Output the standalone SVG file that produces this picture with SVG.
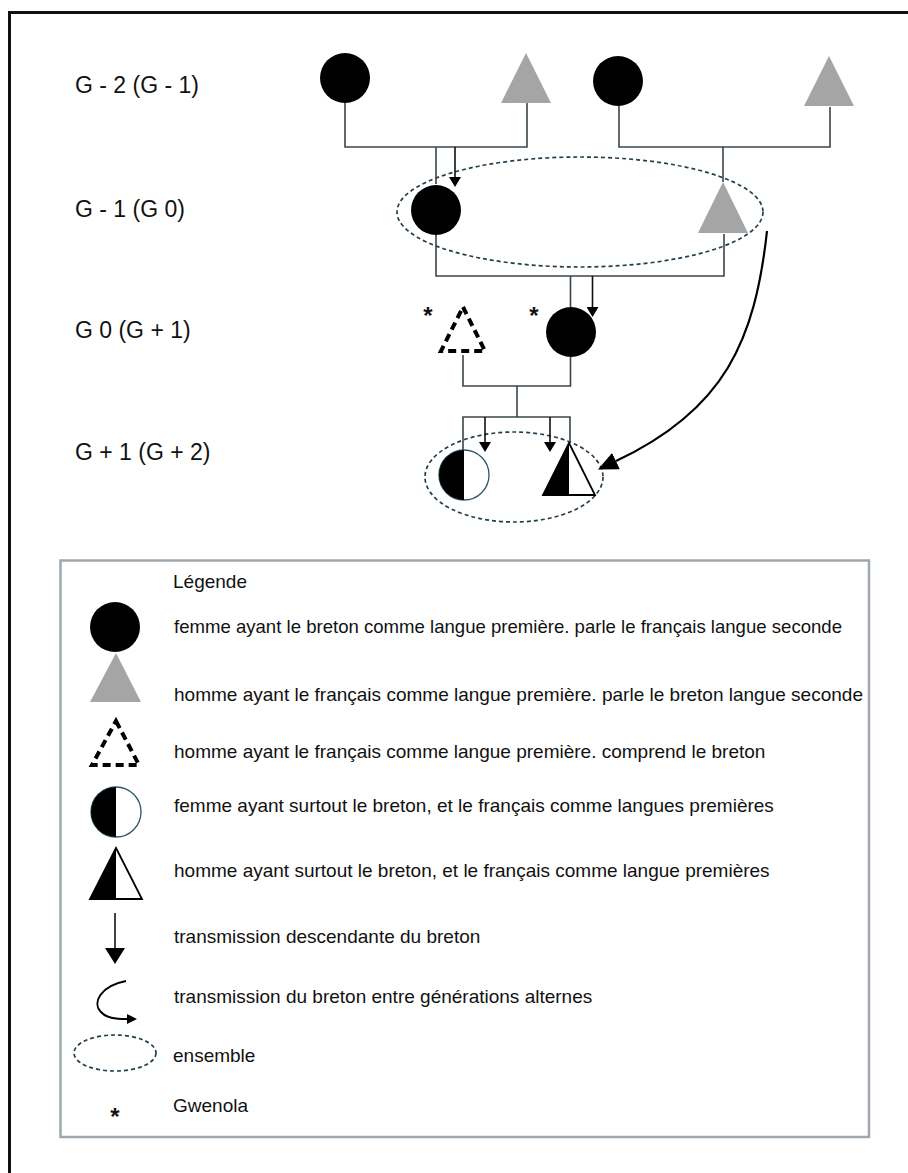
<svg xmlns="http://www.w3.org/2000/svg" width="908" height="1173" viewBox="0 0 908 1173">
<style>
  .lbl { font-family: "Liberation Sans", Arial, sans-serif; font-size: 23px; fill: #111; }
  .leg { font-family: "Liberation Sans", Arial, sans-serif; font-size: 19px; fill: #111; }
  .star { font-family: "Liberation Sans", Arial, sans-serif; font-size: 24px; font-weight: bold; fill: #111; text-anchor: middle; }
  .f { fill: #000; }
  .m { fill: #a5a5a5; }
  .ln { fill: none; stroke: #3a454b; stroke-width: 1.6; }
  .arr { fill: none; stroke: #111; stroke-width: 1.6; }
  .ens { fill: none; stroke: #24404e; stroke-width: 1.7; stroke-dasharray: 4 3; }
  .dtri { fill: none; stroke: #000; stroke-width: 4; stroke-dasharray: 8 5; stroke-linejoin: miter; }
</style>
<defs>
  <marker id="headS" markerUnits="userSpaceOnUse" viewBox="0 0 10 12" markerWidth="10" markerHeight="12" refX="0" refY="6" orient="auto">
    <polygon points="0,0 10,6 0,12" fill="#000"/>
  </marker>
  <marker id="headL" markerUnits="userSpaceOnUse" viewBox="0 0 16 20" markerWidth="16" markerHeight="20" refX="0" refY="10" orient="auto">
    <polygon points="0,0 16,10 0,20" fill="#000"/>
  </marker>
  <marker id="headC" markerUnits="userSpaceOnUse" viewBox="0 0 20 18" markerWidth="20" markerHeight="18" refX="0" refY="9" orient="auto">
    <polygon points="0,0 20,9 0,18" fill="#000"/>
  </marker>
  <marker id="headT" markerUnits="userSpaceOnUse" viewBox="0 0 10 10" markerWidth="10" markerHeight="10" refX="0" refY="5" orient="auto">
    <polygon points="0,0 10,5 0,10" fill="#000"/>
  </marker>
</defs>

<rect x="0" y="0" width="908" height="1173" fill="#fff"/>
<path d="M9.5,1173 V12.5 H908" fill="none" stroke="#111" stroke-width="3"/>

<g id="labels">
  <text class="lbl" x="75" y="93">G - 2 (G - 1)</text>
  <text class="lbl" x="75" y="217">G - 1 (G 0)</text>
  <text class="lbl" x="75" y="338">G  0 (G + 1)</text>
  <text class="lbl" x="75" y="460">G + 1 (G + 2)</text>
</g>

<g id="ensembles">
  <ellipse id="ens1" class="ens" cx="580" cy="212" rx="183" ry="55"/>
  <ellipse id="ens2" class="ens" cx="514" cy="477" rx="89" ry="45"/>
</g>

<g id="connectors">
  <path class="ln" d="M345,103 V147 H527 V103"/>
  <path class="ln" d="M436,147 V184"/>
  <path class="ln" d="M619,106 V147 H830 V107"/>
  <path class="ln" d="M723,147 V182"/>
  <path class="ln" d="M436,235 V276 H724 V234"/>
  <path class="ln" d="M570.5,276 V307"/>
  <path class="ln" d="M463,355 V386 H570.5 V357"/>
  <path class="ln" d="M517,386 V417"/>
  <path class="ln" d="M463,450 V417 H570 V443"/>
  <path class="arr" d="M455,147 V177" marker-end="url(#headS)"/>
  <path class="arr" d="M592.5,276 V307" marker-end="url(#headS)"/>
  <path class="arr" d="M485,417 V442" marker-end="url(#headS)"/>
  <path class="arr" d="M550,417 V442" marker-end="url(#headS)"/>
  <path d="M767,231 C755,340 725,410 616,461" fill="none" stroke="#000" stroke-width="2.2" marker-end="url(#headC)"/>
</g>

<g id="g-2-f1"><circle class="f" cx="345" cy="78" r="25"/></g>
<g id="g-2-m1"><polygon class="m" points="526,53 551,103 501,103"/></g>
<g id="g-2-f2"><circle class="f" cx="618" cy="81" r="25"/></g>
<g id="g-2-m2"><polygon class="m" points="829,56 854,106 804,106"/></g>
<g id="g-1-f"><circle class="f" cx="436" cy="210" r="25"/></g>
<g id="g-1-m"><polygon class="m" points="723,182 748,233 698,233"/></g>
<g id="g0-m">
  <polygon class="dtri" points="463,307 485,351 441,351"/>
  <text class="star" x="428" y="324">*</text>
</g>
<g id="g0-f">
  <circle class="f" cx="571" cy="332" r="25"/>
  <text class="star" x="534" y="324">*</text>
</g>
<g id="g1-f">
  <circle cx="464" cy="475" r="25" fill="#fff" stroke="#2c5869" stroke-width="1.3"/>
  <path d="M464,450 A25,25 0 0 0 464,500 Z" fill="#000"/>
</g>
<g id="g1-m">
  <polygon points="569,443 595,495 543,495" fill="#fff" stroke="#000" stroke-width="1.8"/>
  <polygon points="569,443 569,495 543,495" fill="#000"/>
</g>

<g id="legend">
  <rect x="60.5" y="560.5" width="808.5" height="576.5" fill="none" stroke="#9ea8ae" stroke-width="2.5"/>
  <text class="leg" x="173" y="588">Légende</text>

  <circle class="f" cx="115" cy="627" r="25"/>
  <text class="leg" x="174" y="633" textLength="668" lengthAdjust="spacingAndGlyphs">femme ayant le breton comme langue première. parle le français langue seconde</text>

  <polygon class="m" points="116,653 141,702 90,702"/>
  <text class="leg" x="174" y="701" textLength="689" lengthAdjust="spacingAndGlyphs">homme ayant le français comme langue première. parle le breton langue seconde</text>

  <polygon class="dtri" points="116,721 139,765 92,765"/>
  <text class="leg" x="174" y="758">homme ayant le français comme langue première. comprend le breton</text>

  <circle cx="116" cy="812" r="25" fill="#fff" stroke="#2c5869" stroke-width="1.3"/>
  <path d="M116,787 A25,25 0 0 0 116,837 Z" fill="#000"/>
  <text class="leg" x="174" y="812">femme ayant surtout le breton, et le français comme langues premières</text>

  <polygon points="116,848 142,899 90,899" fill="#fff" stroke="#000" stroke-width="1.8"/>
  <polygon points="116,848 116,899 90,899" fill="#000"/>
  <text class="leg" x="174" y="877">homme ayant surtout le breton, et le français comme langue premières</text>

  <path class="arr" d="M115,913 V948" marker-end="url(#headL)"/>
  <text class="leg" x="174" y="943">transmission descendante du breton</text>

  <path d="M126,981 C100,986 92,1003 101,1012 C106,1018 115,1019 127,1019" fill="none" stroke="#000" stroke-width="2" marker-end="url(#headT)"/>
  <text class="leg" x="174" y="1003">transmission du breton entre générations alternes</text>

  <ellipse class="ens" cx="115" cy="1053" rx="41" ry="18"/>
  <text class="leg" x="173" y="1062">ensemble</text>

  <text class="star" x="115" y="1125">*</text>
  <text class="leg" x="173" y="1112">Gwenola</text>
</g>
</svg>
